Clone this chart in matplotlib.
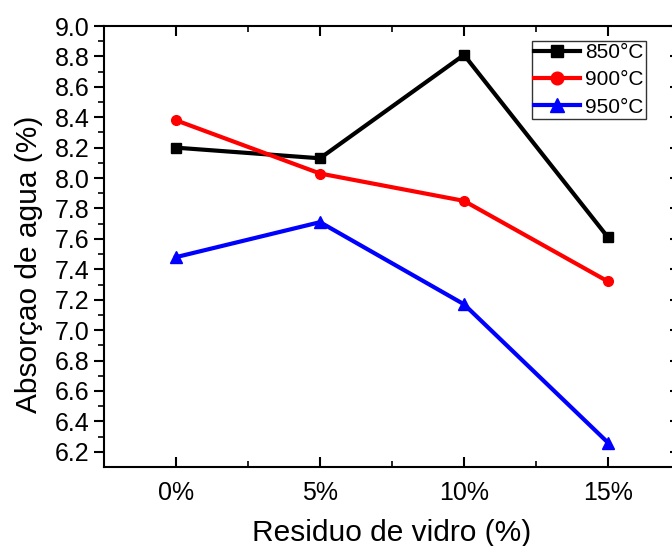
import numpy as np
import matplotlib.pyplot as plt

plt.rcParams['font.family'] = ['Liberation Sans', 'DejaVu Sans']

# datos
residuo = ['0%', '5%', '10%', '15%']
t850 = [8.20, 8.13, 8.81, 7.61]
t900 = [8.38, 8.03, 7.85, 7.32]
t950 = [7.48, 7.71, 7.17, 6.26]

fig = plt.figure(figsize=(6.72, 5.46), dpi=100)
ax = fig.add_axes([104/672, 1-467/546, 576/672, 441/546])

x = np.arange(len(residuo))
ax.plot(x, t850, color='black', lw=3, marker='s', ms=7, label='850°C')
ax.plot(x, t900, color='red', lw=3, marker='o', ms=7, label='900°C')
ax.plot(x, t950, color='blue', lw=3, marker='^', ms=8, label='950°C')

ax.set_xlim(-0.5, 3.5)
ax.set_ylim(6.1, 9.0)
ax.set_xticks(x)
ax.set_xticklabels(residuo)
ax.set_xticks([0.5, 1.5, 2.5], minor=True)
yt = np.arange(6.2, 9.01, 0.2)
ymin = np.arange(6.3, 9.0, 0.2)
ax.set_yticks(yt)
ax.set_yticks(ymin, minor=True)
ax.yaxis.set_major_formatter(plt.FormatStrFormatter('%.1f'))

ax.tick_params(axis='y', which='major', direction='out', length=7, width=1.5, labelsize=18)
ax.tick_params(axis='y', which='minor', direction='out', length=4, width=1.2)
ax.tick_params(axis='x', which='major', direction='in', length=7, width=1.5, labelsize=18, top=True, pad=10)
ax.tick_params(axis='x', which='minor', direction='in', length=4, width=1.2, top=True)
for s in ax.spines.values():
    s.set_linewidth(1.5)

# eje derecho con ticks hacia adentro
ax2 = ax.secondary_yaxis('right')
ax2.set_yticks(yt)
ax2.set_yticks(ymin, minor=True)
ax2.tick_params(which='major', direction='in', length=7, width=1.5, labelright=False)
ax2.tick_params(which='minor', direction='in', length=4, width=1.2, labelright=False)
ax2.spines['right'].set_linewidth(1.5)

ax.set_xlabel('Residuo de vidro (%)', fontsize=21.5, labelpad=10)
ax.set_ylabel('Absorçao de agua (%)', fontsize=21.5)
ax.yaxis.set_label_coords(-0.106, 0.46)

leg = ax.legend(loc='upper left', bbox_to_anchor=((532-104)/576, 1-(41-26)/441), fontsize=15,
                fancybox=False, edgecolor='black', handlelength=2.2, handletextpad=0.25,
                borderpad=0.1, labelspacing=0.4, borderaxespad=0, markerscale=1.3)
leg.get_frame().set_linewidth(1)

fig.savefig('out.png', dpi=100)
